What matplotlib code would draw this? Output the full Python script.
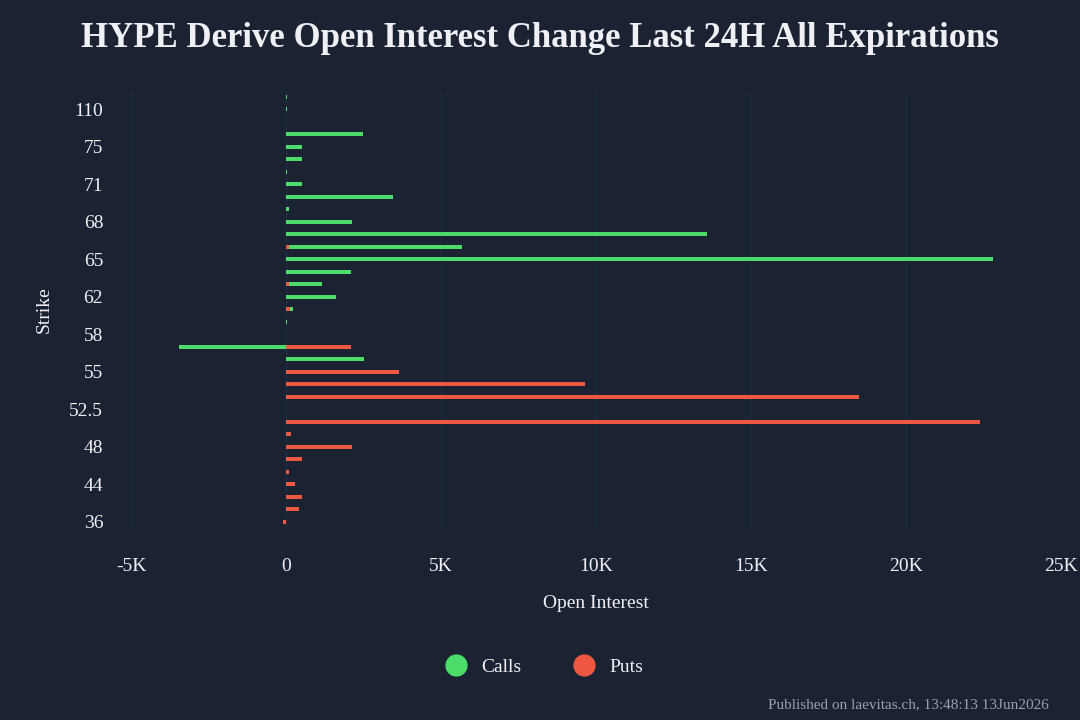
import matplotlib.pyplot as plt
from matplotlib.lines import Line2D
from matplotlib.ticker import FuncFormatter

# strikes bottom -> top (categorical axis)
strikes = ["36", "40", "42", "44", "45", "46", "48", "50", "52", "52.5",
           "53", "54", "55", "56", "57", "58", "60", "61", "62", "63",
           "64", "65", "66", "67", "68", "69", "70", "71", "72", "74",
           "75", "80", "100", "110", "120"]
calls = [0, 0, 0, 0, 0, 0, 0, 0, 0, 0,
         0, 0, 0, 2500, -3450, 0, 30, 210, 1610, 1150,
         2090, 22800, 5680, 13580, 2140, 100, 3460, 500, 20, 500,
         500, 2490, 0, 30, 30]
puts = [-100, 410, 530, 280, 100, 520, 2140, 170, 22400, 0,
        18500, 9650, 3660, 0, 2090, 0, 0, 130, 0, 100,
        0, 0, 100, 0, 0, 0, 0, 0, 0, 0,
        0, 0, 0, 0, 0]
shown_labels = ["36", "44", "48", "52.5", "55", "58", "62", "65", "68", "71", "75", "110"]

BG = "#1b2333"
GREEN = "#4cdc6a"
RED = "#ee5741"
TXT = "#eef0f4"

plt.rcParams["font.family"] = ["Liberation Serif", "DejaVu Serif"]

fig = plt.figure(figsize=(10.8, 7.2), dpi=100, facecolor=BG)
ax = fig.add_axes([0.1213, 0.267, 0.8611, 0.607], facecolor=BG)

ypos = list(range(len(strikes)))
ax.barh(ypos, calls, height=0.32, color=GREEN, zorder=3)
ax.barh(ypos, puts, height=0.32, color=RED, zorder=4)

ax.set_xlim(-5000, 25000)
ax.set_ylim(-0.5, len(strikes) - 0.5)
ax.set_xticks([-5000, 0, 5000, 10000, 15000, 20000, 25000])
ax.xaxis.set_major_formatter(FuncFormatter(lambda v, p: "0" if v == 0 else f"{int(v / 1000)}K"))
ticks = [strikes.index(s) for s in shown_labels]
ax.set_yticks(ticks)
ax.set_yticklabels(shown_labels)

ax.tick_params(colors=TXT, labelsize=14, length=0)
ax.tick_params(axis="x", pad=22)
ax.tick_params(axis="y", pad=20)
for s in ax.spines.values():
    s.set_visible(False)
ax.grid(axis="x", color="#1e2b3c", linewidth=1, zorder=0)
ax.axvline(-5000, color="#363f4d", linewidth=1.5, zorder=1)
ax.axvline(0, color="#21303f", linewidth=1, zorder=1)

ax.set_xlabel("Open Interest", color=TXT, fontsize=14, labelpad=14)
ax.set_ylabel("Strike", color=TXT, fontsize=14, labelpad=12)

fig.text(0.5, 0.947, "HYPE Derive Open Interest Change Last 24H All Expirations",
         ha="center", va="center", color=TXT, fontsize=25, fontweight="bold")

handles = [Line2D([], [], marker="o", linestyle="", markersize=15, color=GREEN, label="Calls"),
           Line2D([], [], marker="o", linestyle="", markersize=15, color=RED, label="Puts")]
leg = fig.legend(handles=handles, loc="center", bbox_to_anchor=(0.5, 0.073), ncol=2,
                 frameon=False, fontsize=14, handletextpad=0.3, columnspacing=2.2)
for t in leg.get_texts():
    t.set_color(TXT)

fig.text(0.971, 0.021, "Published on laevitas.ch, 13:48:13 13Jun2026",
         ha="right", va="center", color="#9aa0aa", fontsize=11)

fig.savefig("out.png", dpi=100, facecolor=BG)
